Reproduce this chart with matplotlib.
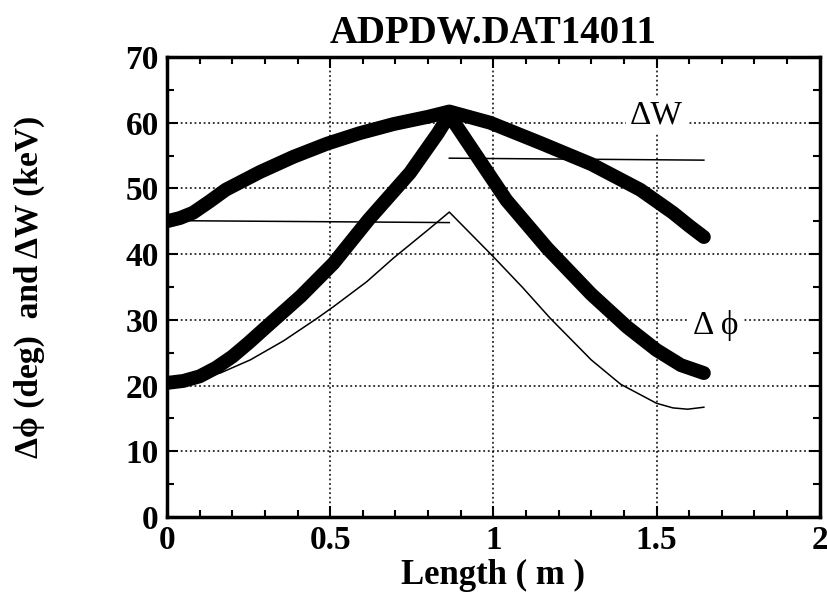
import matplotlib
matplotlib.use("Agg")
import matplotlib.pyplot as plt
from matplotlib.ticker import MultipleLocator

# Data
dw_x = [0.0, 0.04, 0.08, 0.13, 0.18, 0.285, 0.387, 0.49, 0.59, 0.695, 0.8, 0.865,
        0.99, 1.145, 1.3, 1.45, 1.55, 1.6, 1.645]
dw_y = [45.0, 45.5, 46.3, 48.0, 49.8, 52.5, 54.8, 56.8, 58.4, 59.8, 60.9, 61.7,
        60.0, 56.9, 53.7, 49.8, 46.3, 44.3, 42.6]

dphi_x = [0.0, 0.05, 0.1, 0.15, 0.2, 0.25, 0.306, 0.41, 0.51, 0.617, 0.745, 0.83, 0.865,
          0.89, 0.94, 1.04, 1.165, 1.3, 1.41, 1.5, 1.575, 1.645]
dphi_y = [20.4, 20.7, 21.4, 22.7, 24.4, 26.5, 29.0, 33.6, 38.6, 45.2, 52.4, 58.4, 61.2,
          59.3, 55.6, 48.2, 40.9, 33.9, 28.9, 25.4, 23.1, 21.9]

thin_x = [0.0, 0.08, 0.163, 0.255, 0.357, 0.459, 0.51, 0.612, 0.694, 0.8, 0.865,
          1.0, 1.09, 1.175, 1.3, 1.39, 1.5, 1.55, 1.595, 1.645]
thin_y = [20.4, 21.2, 21.9, 23.9, 26.8, 30.2, 32.0, 35.8, 39.4, 43.7, 46.4,
          39.6, 34.9, 30.2, 23.9, 20.2, 17.3, 16.6, 16.4, 16.7]

ref1_x = [0.0, 0.865]
ref1_y = [45.1, 44.8]
ref2_x = [0.865, 1.645]
ref2_y = [54.6, 54.3]

title = "ADPDW.DAT14011"
xlabel = "Length ( m )"
ylabel = "Δϕ (deg)  and ΔW (keV)"
xticks = [0, 0.5, 1, 1.5, 2]
xticklabels = ["0", "0.5", "1", "1.5", "2"]
yticks = [0, 10, 20, 30, 40, 50, 60, 70]

plt.rcParams['font.family'] = ['Liberation Serif', 'DejaVu Serif']
plt.rcParams['font.weight'] = 'bold'

fig = plt.figure(figsize=(8.28, 5.96), dpi=100)
ax = fig.add_axes([0.2017, 0.1326, 0.7883, 0.7718])

ax.plot(dw_x, dw_y, color='black', lw=10, solid_capstyle='round', solid_joinstyle='round', zorder=4)
ax.plot(dphi_x, dphi_y, color='black', lw=10, solid_capstyle='round', solid_joinstyle='round', zorder=4)
ax.plot(thin_x, thin_y, color='black', lw=1.1, zorder=3)
ax.plot(ref1_x, ref1_y, color='black', lw=1.1, zorder=3)
ax.plot(ref2_x, ref2_y, color='black', lw=1.1, zorder=3)

ax.set_xlim(0, 2)
ax.set_ylim(0, 70)
ax.set_xticks(xticks)
ax.set_xticklabels(xticklabels)
ax.set_yticks(yticks)
ax.xaxis.set_minor_locator(MultipleLocator(0.1))
ax.yaxis.set_minor_locator(MultipleLocator(5))
ax.tick_params(which='both', direction='in', top=True, right=True, width=1.5)
ax.tick_params(which='major', length=8, labelsize=24, pad=6)
ax.tick_params(which='minor', length=5)
for s in ax.spines.values():
    s.set_linewidth(2.5)

ax.grid(True, which='major', linestyle=(0, (1.2, 1.8)), color='black', lw=1.1)

ax.text(1.50, 61.2, "ΔW", fontsize=24, fontweight='normal', ha='center', va='center',
        bbox=dict(facecolor='white', edgecolor='none', pad=3), zorder=5)
ax.text(1.68, 29.2, "Δ ϕ", fontsize=24, fontweight='normal', ha='center', va='center',
        bbox=dict(facecolor='white', edgecolor='none', pad=3), zorder=5)

ax.set_title(title, fontsize=28, fontweight='bold', pad=10)
ax.set_xlabel(xlabel, fontsize=25, fontweight='bold', labelpad=2)
ax.set_ylabel(ylabel, fontsize=24, fontweight='bold', labelpad=58)

fig.savefig("out.png", dpi=100)
